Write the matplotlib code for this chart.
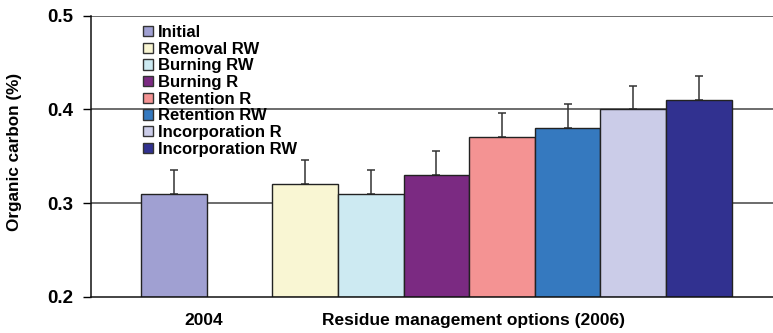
import matplotlib
matplotlib.use("Agg")
import matplotlib.pyplot as plt
from matplotlib.patches import Patch

plt.rcParams['font.family'] = ['Liberation Sans', 'DejaVu Sans']
plt.rcParams['font.weight'] = 'bold'

treatments = ["Initial", "Removal RW", "Burning RW", "Burning R",
              "Retention R", "Retention RW", "Incorporation R", "Incorporation RW"]
carbon = [0.31, 0.32, 0.31, 0.33, 0.37, 0.38, 0.40, 0.41]
carbon_err = [0.025, 0.026, 0.025, 0.026, 0.026, 0.026, 0.025, 0.026]
colors = ["#A0A0D2", "#F9F6D3", "#CDEAF2", "#7B2A82",
          "#F49393", "#3579BF", "#CBCCE8", "#313190"]
bar_pos = [0, 2, 3, 4, 5, 6, 7, 8]
group_labels = ["2004", "Residue management options (2006)"]
group_pos = [0.46, 4.56]

fig = plt.figure(figsize=(7.73, 3.33), dpi=100)
ax = fig.add_axes([91 / 773, 36.3 / 333, 682 / 773, 281 / 333])

ax.set_ylim(0.2, 0.5)
ax.set_xlim(-1.265, 9.13)

# horizontal reference lines behind the bars
for yv in [0.3, 0.4, 0.5]:
    ax.axhline(yv, color="#444444", lw=1.1, zorder=0)

ax.bar(bar_pos, [c - 0.2 for c in carbon], bottom=0.2, width=1.0,
       color=colors, edgecolor="#222222", linewidth=1.0, zorder=2)
ax.errorbar(bar_pos, carbon, yerr=[[0] * len(carbon), carbon_err], fmt="none",
            ecolor="#333333", elinewidth=1.1, capsize=3.2, capthick=1.1, zorder=1)

ax.set_yticks([0.2, 0.3, 0.4, 0.5])
ax.set_yticklabels(["0.2", "0.3", "0.4", "0.5"], fontsize=13.5, fontweight="bold")
ax.tick_params(axis="y", direction="out", length=6, width=1, pad=7)
ax.set_xticks(group_pos)
ax.set_xticklabels(group_labels, fontsize=12.5, fontweight="bold")
ax.tick_params(axis="x", length=0, pad=12)

for s in ["top", "right"]:
    ax.spines[s].set_visible(False)
ax.spines["left"].set_linewidth(1.1)
ax.spines["bottom"].set_linewidth(1.1)
ax.spines["left"].set_color("#111111")
ax.spines["bottom"].set_color("#111111")

fig.text(15 / 773, 0.545, "Organic carbon (%)", rotation=90, ha="center", va="center",
         fontsize=12.3, fontweight="bold")

handles = [Patch(facecolor=c, edgecolor="#333333", linewidth=1.0) for c in colors]
ax.legend(handles, treatments, loc="upper left", bbox_to_anchor=(143 / 773, 1 - 25 / 333),
          bbox_transform=fig.transFigure, frameon=False,
          prop={"weight": "bold", "size": 12}, handlelength=0.6, handleheight=0.6,
          handletextpad=0.3, labelspacing=0.1, borderpad=0, borderaxespad=0)

fig.savefig("out.png", dpi=100)
